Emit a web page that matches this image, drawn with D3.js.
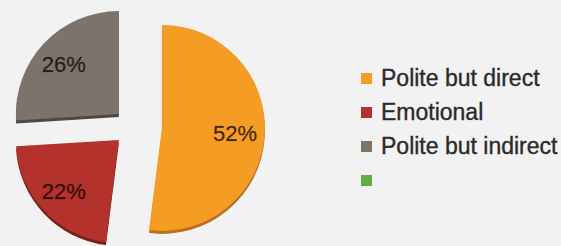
<!DOCTYPE html>
<html>
<head>
<meta charset="utf-8">
<script src="https://cdn.jsdelivr.net/npm/d3@7"></script>
<style>
  body { margin: 0; background: #f2f2f2; }
  svg { display: block; font-family: "Liberation Sans", Arial, sans-serif; }
</style>
</head>
<body>
<svg id="chart" width="561" height="246"></svg>
<script>
const categories = ["Polite but direct", "Emotional", "Polite but indirect", ""];
const values = [52, 22, 26, 0];
const labels = ["52%", "22%", "26%", ""];

const colors = ["#f49c23", "#b3322b", "#7c746a", "#5daf45"];
const rimColors = ["#b8701a", "#7a1f1a", "#4e4842", "#3d7a2c"];

const width = 561;
const height = 246;
const cx = 140;
const cy = 127;
const radius = 103;
// explosion distance per slice, squashed vertically a bit (3D tilt)
const explode = [22, 29, 29, 0];
const squashY = 0.65;

const svg = d3.select("#chart");

svg.append("rect")
  .attr("width", width)
  .attr("height", height)
  .attr("fill", "#f2f2f2");

const pie = d3.pie().sort(null).value((d) => d.value);
const data = categories.map((c, i) => ({ name: c, value: values[i], i: i }));
const arcs = pie(data);

const arc = d3.arc().innerRadius(0).outerRadius(radius);
const labelArc = d3.arc().innerRadius(radius * 0.72).outerRadius(radius * 0.72);

function offset(d) {
  const a = (d.startAngle + d.endAngle) / 2;
  const e = explode[d.data.i];
  return [cx + Math.sin(a) * e, cy - Math.cos(a) * e * squashY];
}

const slices = svg.append("g")
  .selectAll("g")
  .data(arcs.filter((d) => d.value > 0))
  .join("g")
  .attr("transform", (d) => `translate(${offset(d)})`);

// darker rim to fake the 3D depth
slices.append("path")
  .attr("d", arc)
  .attr("transform", "translate(0,3)")
  .attr("fill", (d) => rimColors[d.data.i]);

slices.append("path")
  .attr("d", arc)
  .attr("fill", (d) => colors[d.data.i]);

slices.append("text")
  .attr("transform", (d) => {
    const [x, y] = labelArc.centroid(d);
    return `translate(${x - 1},${y + 3})`;
  })
  .attr("text-anchor", "middle")
  .attr("dominant-baseline", "middle")
  .style("font-size", "22px")
  .attr("fill", "#000")
  .attr("fill-opacity", 0.72)
  .attr("stroke", "#000")
  .attr("stroke-opacity", 0.35)
  .attr("stroke-width", 0.5)
  .text((d) => labels[d.data.i]);

// Legend
const legendY = d3.scaleBand()
  .domain(d3.range(categories.length))
  .range([62, 198]);

const legend = svg.append("g")
  .selectAll("g")
  .data(categories)
  .join("g")
  .attr("transform", (d, i) => `translate(361,${legendY(i) + legendY.bandwidth() / 2})`);

legend.append("rect")
  .attr("x", 0)
  .attr("y", -6)
  .attr("width", 11)
  .attr("height", 11)
  .attr("fill", (d, i) => colors[i]);

legend.append("text")
  .attr("x", 20)
  .attr("y", 1)
  .attr("dominant-baseline", "middle")
  .style("font-size", "23px")
  .attr("fill", "#2a2a2a")
  .attr("stroke", "#2a2a2a")
  .attr("stroke-width", 0.35)
  .text((d) => d);
</script>
</body>
</html>
